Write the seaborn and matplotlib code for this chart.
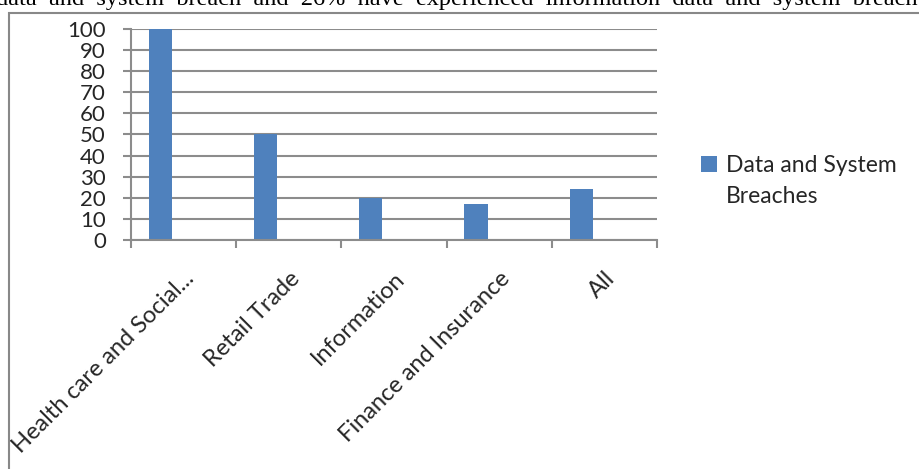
import pandas as pd
import matplotlib.pyplot as plt
import seaborn as sns
from matplotlib.patches import Patch, Rectangle

# data
categories = ["Health care and Social...", "Retail Trade", "Information",
              "Finance and Insurance", "All"]
breaches = [100, 50, 20, 17, 24]
series_names = ["Data and System Breaches", "Series2", "Series3"]
y_ticks = list(range(0, 101, 10))
caption_words = ["data", "and", "system", "breach", "and", "26%", "have",
                 "experienced", "information", "data", "and", "system",
                 "breach"]

bar_blue = "#4f81bd"
grid_grey = "#8c8c8c"


def main():
    sns.set_theme(style="white")
    plt.rcParams["font.family"] = ["Lato", "DejaVu Sans"]

    # Excel-style clustered column: two empty series next to the real one
    rows = []
    for cat, val in zip(categories, breaches):
        rows.append({"category": cat, "series": series_names[0], "value": val})
        for name in series_names[1:]:
            rows.append({"category": cat, "series": name, "value": float("nan")})
    df = pd.DataFrame(rows)

    fig = plt.figure(figsize=(9.2, 4.69), dpi=100)
    ax = fig.add_axes([131 / 920, 1 - 240 / 469, 526 / 920, 211 / 469])

    sns.barplot(data=df, x="category", y="value", hue="series",
                hue_order=series_names, order=categories,
                palette=[bar_blue, bar_blue, bar_blue], saturation=1,
                width=0.66, linewidth=0, legend=False, ax=ax)

    ax.set_xlim(-0.5, len(categories) - 0.5)
    ax.set_ylim(0, 100)
    ax.set_yticks(y_ticks)
    ax.set_xlabel("")
    ax.set_ylabel("")

    # gridlines and axes
    ax.set_axisbelow(True)
    ax.yaxis.grid(True, color=grid_grey, linewidth=1.5)
    ax.xaxis.grid(False)
    for side in ["top", "right"]:
        ax.spines[side].set_visible(False)
    for side in ["left", "bottom"]:
        ax.spines[side].set_color(grid_grey)
        ax.spines[side].set_linewidth(1.5)

    ax.tick_params(axis="y", direction="out", length=6, width=1.5,
                   color=grid_grey, labelsize=16, pad=12, left=True)
    ax.set_xticks([i - 0.5 for i in range(len(categories) + 1)], minor=True)
    ax.tick_params(axis="x", which="minor", direction="out", length=6,
                   width=1.5, color=grid_grey, bottom=True)
    ax.tick_params(axis="x", which="major", length=0, labelsize=17, pad=20)
    ax.set_xticklabels(categories, rotation=45, ha="right",
                       rotation_mode="anchor")

    # legend: handle next to first line only
    handles = [Patch(facecolor=bar_blue, edgecolor="none"),
               Patch(facecolor="none", edgecolor="none")]
    fig.legend(handles, ["Data and System", "Breaches"], loc="upper left",
               bbox_to_anchor=(690 / 920, 1 - 144 / 469), frameon=False,
               fontsize=16.5, handlelength=0.7, handleheight=0.7,
               handletextpad=0.35, labelspacing=0.4, borderpad=0)

    # chart frame and clipped (justified) caption line from the page
    fig.patches.append(Rectangle((9.5 / 920, -0.1), 1.2, 1 - 13 / 469 + 0.1,
                                 transform=fig.transFigure, fill=False,
                                 edgecolor="#888888", linewidth=1.5))
    fig.text(-4 / 920, 1 - 4.5 / 469, "  ".join(caption_words),
             family="Liberation Serif", fontsize=17.5, va="baseline",
             ha="left", color="black")

    fig.savefig("out.png", dpi=100)
    plt.close(fig)


if __name__ == "__main__":
    main()
